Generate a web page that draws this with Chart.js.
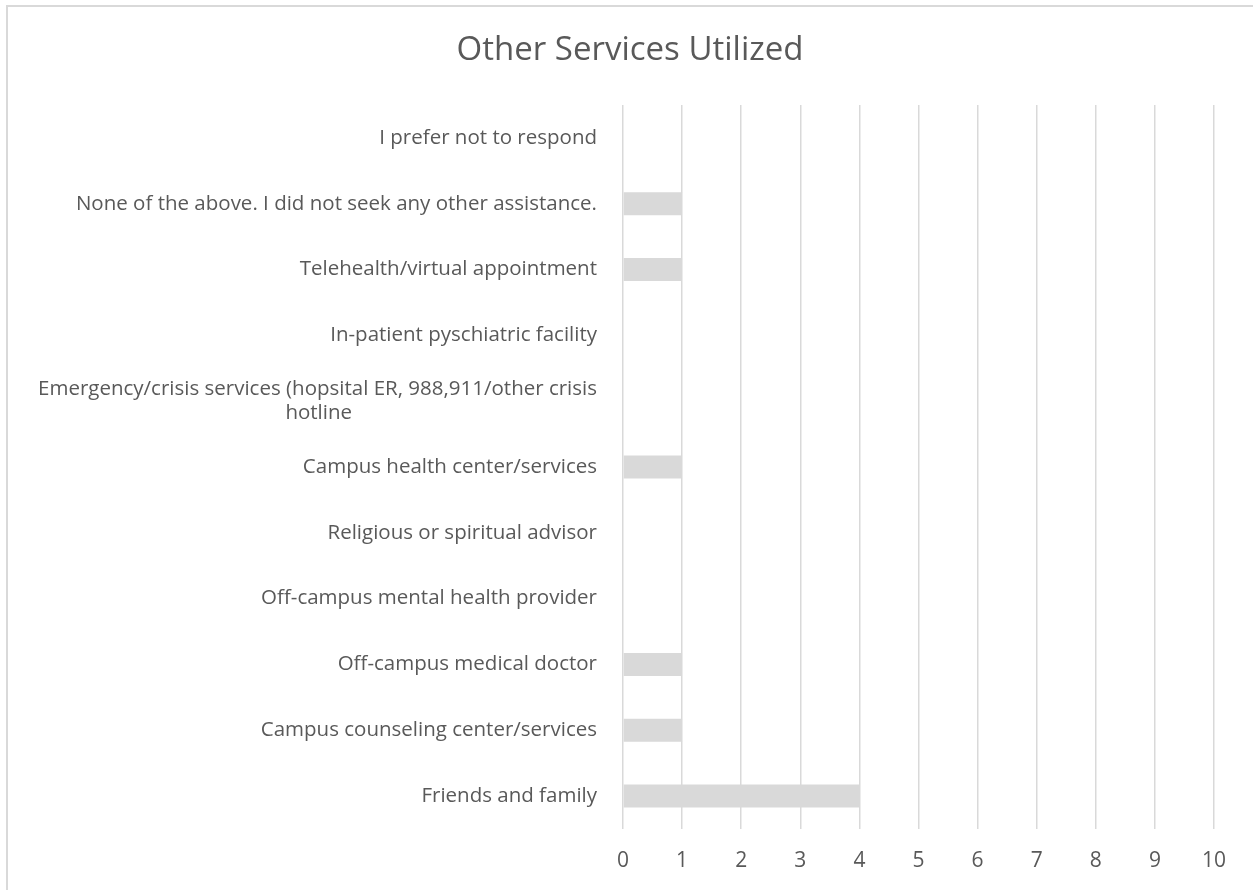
<!DOCTYPE html>
<html>
<head>
<meta charset="utf-8">
<script src="https://cdn.jsdelivr.net/npm/chart.js@4"></script>
<style>
  html, body { margin: 0; padding: 0; background: #fff; overflow: hidden; }
  #frame { position: absolute; left: 6px; top: 5px; width: 1300px; height: 950px;
           border-left: 2px solid #d9d9d9; border-top: 2px solid #d9d9d9; }
  #wrap { position: absolute; left: 0; top: 0; width: 1253px; height: 890px; }
</style>
</head>
<body>
<div id="frame"></div>
<div id="wrap"><canvas id="grafico"></canvas></div>
<script>
const categorias = [
  'I prefer not to respond',
  'None of the above. I did not seek any other assistance.',
  'Telehealth/virtual appointment',
  'In-patient pyschiatric facility',
  ['Emergency/crisis services (hopsital ER, 988,911/other crisis', 'hotline'],
  'Campus health center/services',
  'Religious or spiritual advisor',
  'Off-campus mental health provider',
  'Off-campus medical doctor',
  'Campus counseling center/services',
  'Friends and family'
];
const respuestas = [0, 1, 1, 0, 0, 1, 0, 0, 1, 1, 4];
const ejeMin = 0;
const ejeMax = 10;
const titulo = 'Other Services Utilized';

const gris = '#d9d9d9';
const texto = '#595959';
const fuente = "'Open Sans', sans-serif";
const tamEtiqueta = 20.5;
Chart.defaults.font.family = fuente;
Chart.defaults.color = texto;

// centra las lineas cortas de una etiqueta de varias lineas (alineada a la derecha)
const medidor = document.createElement('canvas').getContext('2d');
medidor.font = tamEtiqueta + 'px ' + fuente;
function centrarLineas(lineas) {
  if (!Array.isArray(lineas)) return lineas;
  const anchos = lineas.map(l => medidor.measureText(l).width);
  const maximo = Math.max(...anchos);
  const espacio = medidor.measureText(' ').width;
  return lineas.map((l, i) => l + ' '.repeat(Math.round((maximo - anchos[i]) / 2 / espacio)));
}

// el padding izquierdo solo sirve para centrar el titulo; las etiquetas pueden usar todo el ancho
const sinRecorte = {
  id: 'sinRecorte',
  afterLayout: (chart) => { chart.scales.y.left = 0; }
};

const ctx = document.getElementById('grafico').getContext('2d');
new Chart(ctx, {
  type: 'bar',
  data: {
    labels: categorias,
    datasets: [{
      label: titulo,
      data: respuestas,
      backgroundColor: gris,
      borderWidth: 0,
      barPercentage: 0.35,
      categoryPercentage: 1
    }]
  },
  plugins: [sinRecorte],
  options: {
    indexAxis: 'y',
    responsive: true,
    maintainAspectRatio: false,
    animation: false,
    layout: { padding: { left: 46, right: 39, top: 0, bottom: 0 } },
    plugins: {
      legend: { display: false },
      tooltip: { enabled: false },
      title: {
        display: true,
        text: titulo,
        color: texto,
        font: { size: 33, weight: 'normal' },
        padding: { top: 31, bottom: 34.4 }
      }
    },
    scales: {
      x: {
        min: ejeMin,
        max: ejeMax,
        ticks: { stepSize: 1, font: { size: 21 }, padding: 19, color: texto },
        grid: { color: gris, lineWidth: 1.5, drawTicks: false },
        border: { display: false },
        afterFit: (escala) => { escala.height = 61; }
      },
      y: {
        ticks: {
          font: { size: tamEtiqueta },
          padding: 26,
          color: texto,
          callback: function (valor) { return centrarLineas(this.getLabelForValue(valor)); }
        },
        grid: { display: false, drawTicks: false },
        border: { display: false },
        afterFit: (escala) => { escala.width = 577; }
      }
    }
  }
});
</script>
</body>
</html>
